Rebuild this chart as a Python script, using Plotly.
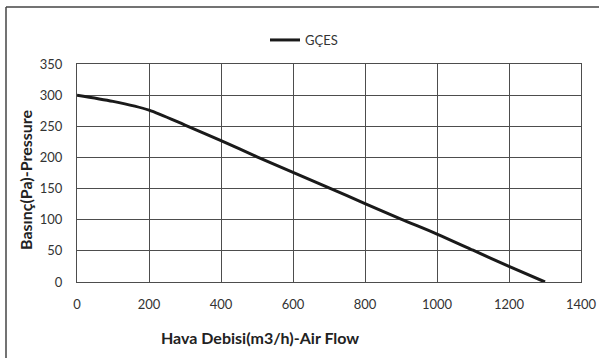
import plotly.graph_objects as go

flow = [0, 100, 200, 300, 400, 500, 600, 700, 800, 900, 1000, 1100, 1200, 1300]
pressure = [300, 290, 276, 252, 227, 201, 176, 151, 126, 101, 77, 51, 25, 0]
series_name = "GÇES"
x_title = "Hava Debisi(m3/h)-Air Flow"
y_title = "Basınç(Pa)-Pressure"

FONT = "Lato, Carlito, Calibri, sans-serif"

fig = go.Figure()
fig.add_trace(go.Scatter(x=flow, y=pressure, mode="lines", name=series_name,
                         line=dict(color="#1a1a1a", width=3, shape="spline", smoothing=0.8)))

L, R, T, B = 77, 18, 64, 76
W, H = 599, 358
pw, ph = W - L - R, H - T - B

def px(x):
    return (x - L) / pw

def py(y):
    return (H - B - y) / ph

fig.update_layout(
    width=W, height=H,
    margin=dict(l=L, r=R, t=T, b=B, autoexpand=False),
    paper_bgcolor="white", plot_bgcolor="white",
    font=dict(family=FONT, size=13, color="#333333"),
    showlegend=True,
    legend=dict(orientation="h", x=px(265), y=py(40), xanchor="left", yanchor="middle",
                itemwidth=30, font=dict(size=13, color="#333333"), bgcolor="rgba(0,0,0,0)"),
    xaxis=dict(range=[0, 1400], dtick=200, showgrid=True, gridcolor="#4d4d4d", gridwidth=1,
               showline=True, linecolor="#4d4d4d", mirror=True, zeroline=False,
               ticks="", ticklabelstandoff=10, tickfont=dict(size=13, color="#333333")),
    yaxis=dict(range=[0, 350], dtick=50, showgrid=True, gridcolor="#4d4d4d", gridwidth=1,
               showline=True, linecolor="#4d4d4d", mirror=True, zeroline=False,
               ticks="", ticklabelstandoff=11, tickfont=dict(size=13, color="#333333")),
    annotations=[
        dict(text="<b>" + x_title + "</b>", x=px(260), y=py(337), xref="paper", yref="paper",
             showarrow=False, font=dict(size=16, color="#222222", family=FONT),
             xanchor="center", yanchor="middle"),
        dict(text="<b>" + y_title + "</b>", x=px(25), y=py(180), xref="paper", yref="paper",
             showarrow=False, textangle=-90, font=dict(size=16, color="#222222", family=FONT),
             xanchor="center", yanchor="middle"),
    ],
    shapes=[
        dict(type="line", xref="paper", yref="paper", x0=px(6), x1=px(600), y0=py(7), y1=py(7),
             line=dict(color="#444444", width=1.5)),
        dict(type="line", xref="paper", yref="paper", x0=px(6), x1=px(6), y0=py(7), y1=py(360),
             line=dict(color="#444444", width=1.5)),
    ],
)

fig.write_html("out.html", config={"displayModeBar": False},
               post_script="document.body.style.margin='0px';")
